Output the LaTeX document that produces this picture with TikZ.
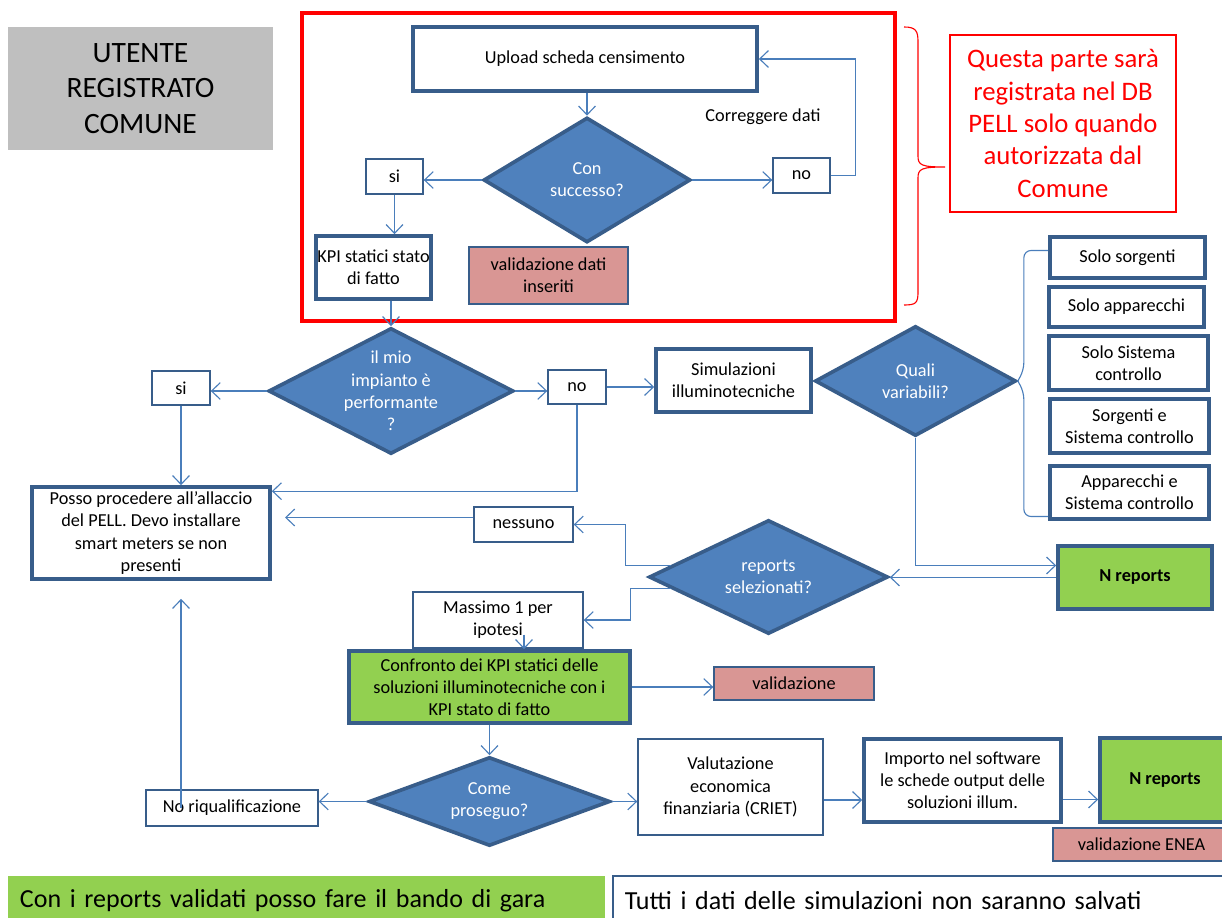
\documentclass[tikz,border=0pt]{standalone}
\usepackage{fontspec}
\setmainfont{Carlito}
\usetikzlibrary{shapes.geometric,arrows.meta,calc}
\definecolor{boxblue}{HTML}{385D8A}
\definecolor{diafill}{HTML}{4F81BD}
\definecolor{linkblue}{HTML}{4A7EBB}
\definecolor{okgreen}{HTML}{92D050}
\definecolor{valpink}{HTML}{D99694}
\definecolor{usergray}{HTML}{BFBFBF}
\newcommand{\normsz}{\fontsize{13}{15.8}\selectfont}
\newcommand{\bigsz}{\fontsize{21}{25.5}\selectfont}
\newcommand{\notesz}{\fontsize{19}{23}\selectfont}
\newcommand{\bannersz}{\fontsize{18.5}{22}\selectfont}
\begin{document}
\begin{tikzpicture}[x=0.025cm,y=-0.025cm,>={Straight Barb[length=2.2mm,width=4.2mm]},
	every node/.style={font=\normsz,inner sep=1pt},
	sz/.style 2 args={minimum width=#1*0.025cm,minimum height=#2*0.025cm},
	box/.style={draw=boxblue,line width=2.6pt,fill=white,align=center},
	thinbox/.style={draw=boxblue,line width=1pt,fill=white,align=center},
	valbox/.style={thinbox,fill=valpink},
	okbox/.style={box,fill=okgreen},
	decision/.style={diamond,draw=boxblue,line width=2.6pt,fill=diafill,inner sep=0},
	dtext/.style={text=white,align=center,font=\normsz},
	link/.style={draw=linkblue,line width=0.8pt},
	arr/.style={link,->}]
	\useasboundingbox (0,0) rectangle (1222,918);
	% parte registrata solo dopo autorizzazione
	\draw[red,line width=2.2pt] (302,13) rectangle (895,321);
	\node[fill=usergray,sz={265}{123},align=center,font=\bigsz] (user) at (140.5,88.5) {UTENTE\\REGISTRATO\\COMUNE};
	\node[box,sz={344}{64}] (upload) at (585,59) {Upload scheda censimento};
	\node[decision,sz={207}{125},label={[dtext]center:{Con\\successo?}}] (esito) at (587,180) {};
	\node[thinbox,sz={57}{35}] (si1) at (394.5,176.5) {si};
	\node[thinbox,sz={57}{35}] (no1) at (801.5,175.5) {no};
	\node (corr) at (763,117) {Correggere dati};
	\node[box,sz={115}{63}] (kpi) at (373.5,267.5) {KPI statici stato\\di fatto};
	\node[valbox,sz={159}{57}] (valdati) at (548.5,275.5) {validazione dati\\inseriti};
	\node[draw=red,line width=0.8pt,text=red,sz={226}{177},align=center,font=\notesz] (nota) at (1063,123.5) {Questa parte sarà\\registrata nel DB\\PELL solo quando\\autorizzata dal\\Comune};
	\draw[red,line width=0.8pt] (904,27) .. controls (916,27) and (918,31) .. (918,42) -- (918,156)
		.. controls (918,165) and (921,167) .. (945,167) .. controls (921,167) and (918,169) .. (918,178)
		-- (918,292) .. controls (918,303) and (916,305) .. (904,305);
	% verifica impianto
	\node[decision,sz={245}{126},label={[dtext]center:{il mio\\impianto è\\performante\\?}}] (mio) at (391,391) {};
	\node[thinbox,sz={58}{34}] (si2) at (181,388) {si};
	\node[thinbox,sz={58}{34}] (no2) at (577,387) {no};
	\node[box,sz={238}{92}] (posso) at (151,533) {Posso procedere all’allaccio\\del PELL. Devo installare\\smart meters se non\\presenti};
	\node[box,sz={155}{63}] (sim) at (733.5,380.5) {Simulazioni\\illuminotecniche};
	\node[decision,sz={201}{110},label={[dtext]center:{Quali\\variabili?}}] (quali) at (915.5,381) {};
	\node[box,sz={155}{41}] (opt1) at (1127.5,257.5) {Solo sorgenti};
	\node[box,sz={155}{40}] (opt2) at (1126.5,307) {Solo apparecchi};
	\node[box,sz={159}{54}] (opt3) at (1128.5,363) {Solo Sistema\\controllo};
	\node[box,sz={159}{54}] (opt4) at (1129.5,426) {Sorgenti e\\Sistema controllo};
	\node[box,sz={159}{53}] (opt5) at (1129.5,492.5) {Apparecchi e\\Sistema controllo};
	\node[okbox,sz={154}{63}] (nrep1) at (1135,577.5) {\textbf{N reports}};
	\node[decision,sz={239}{114},label={[dtext]center:{reports\\selezionati?}}] (sel) at (768.5,577) {};
	\node[thinbox,sz={99}{35}] (nessuno) at (523.5,524.5) {nessuno};
	\node[thinbox,sz={170}{56}] (massimo) at (498,620) {Massimo 1 per\\ipotesi};
	\node[okbox,sz={281}{72}] (confronto) at (489.5,687) {Confronto dei KPI statici delle\\soluzioni illuminotecniche con i\\KPI stato di fatto};
	\node[valbox,sz={160}{33}] (val) at (794,683.5) {validazione};
	\node[decision,sz={241}{89},label={[dtext]center:{Come\\proseguo?}}] (come) at (489.5,801.5) {};
	\node[thinbox,sz={172}{36}] (noriq) at (232,808) {No riqualificazione};
	\node[thinbox,sz={185}{96}] (valut) at (730.5,787) {Valutazione\\economica\\finanziaria (CRIET)};
	\node[box,sz={197}{83}] (importo) at (962.5,780.5) {Importo nel software\\le schede output delle\\soluzioni illum.};
	\node[okbox,sz={130}{84}] (nrep2) at (1165,780) {\textbf{N reports}};
	\node[valbox,sz={177}{33}] (enea) at (1141.5,844.5) {validazione ENEA};
	% note in basso
	\node[fill=okgreen,minimum height=1.25cm,inner xsep=0.3cm,text width=14.325cm,align=left,font=\bannersz] (bando) at (306.5,901) {Con i reports validati posso fare il bando di gara};
	\node[draw=boxblue,line width=1pt,fill=white,minimum height=1.25cm,inner xsep=0.3cm,text width=14.825cm,align=left,font=\bannersz] (salvati) at (921.5,901) {Tutti i dati delle simulazioni non saranno salvati};
	% collegamenti
	\draw[arr] (upload.south -| esito.north) -- (esito.north);
	\draw[arr] (esito.west) -- (esito.west -| si1.east);
	\draw[arr] (esito.east) -- (esito.east -| no1.west);
	\draw[arr] (no1.east) -- ++(25,0) |- (upload.east);
	\draw[arr] (si1.south) -- (si1.south |- kpi.north);
	\draw[arr] (kpi.south -| mio.north) -- (mio.north);
	\draw[arr] (mio.west) -- (mio.west -| si2.east);
	\draw[arr] (mio.east) -- (mio.east -| no2.west);
	\draw[arr] (si2.south) -- (si2.south |- posso.north);
	\draw[arr] (no2.south) |- ($(posso.north east)+(0,6)$);
	\draw[arr] (no2.east) -- (no2.east -| sim.west);
	\draw[link,rounded corners=0.18cm] (quali.east) -- ++(6,-11) |- ($(opt1.west)+(0,-7)$);
	\draw[link,rounded corners=0.18cm] (quali.east) -- ++(6,11) |- ($(opt5.west)+(0,24)$);
	\draw[arr] (quali.south) |- ($(nrep1.west)+(0,-12)$);
	\draw[arr] (nrep1.west) -- (nrep1.west -| sel.east);
	\draw[arr] ($(sel.west)!0.2!(sel.north)$) -- ++(-46,0) |- (nessuno.east);
	\draw[arr] ($(sel.west)!0.2!(sel.south)$) -- ++(-41,0) |- (massimo.east);
	\draw[arr,shorten >=0.33cm] ($(nessuno.west)+(0,-7)$) coordinate (nw) -- (nw -| posso.east);
	\draw[arr] ($(massimo.south)+(26,-14)$) coordinate (mx) -- (mx |- confronto.north);
	\draw[arr] (confronto.east) -- (confronto.east -| val.west);
	\draw[arr] (confronto.south) -- (come.north);
	\draw[arr] (come.west) -- (come.west -| noriq.east);
	\draw[arr,shorten >=0.45cm] (si2.south |- noriq.center) -- (si2.south |- posso.south);
	\draw[arr] (come.east) -- (come.east -| valut.west);
	\draw[arr] ($(valut.east)+(0,13)$) coordinate (vx) -- (vx -| importo.west);
	\draw[arr] ($(importo.east)+(0,19)$) coordinate (ix) -- (ix -| nrep2.west);
\end{tikzpicture}
\end{document}
